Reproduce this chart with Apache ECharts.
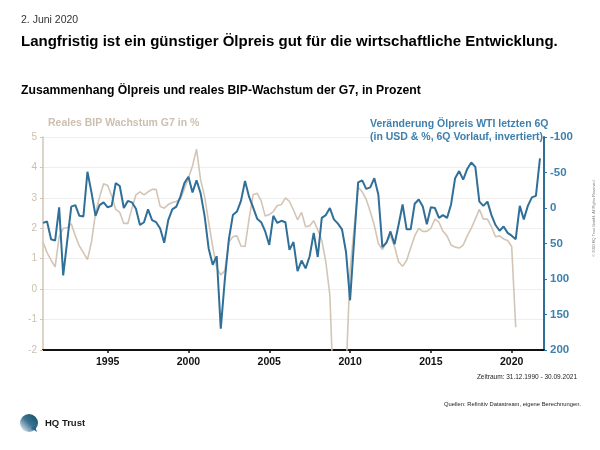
<!DOCTYPE html>
<html>
<head>
<meta charset="utf-8">
<script src="https://cdn.jsdelivr.net/npm/echarts@6/dist/echarts.min.js"></script>
<style>
html,body{margin:0;padding:0;background:#fff;}
#chart{width:600px;height:450px;}
</style>
</head>
<body>
<div id="chart"></div>
<script>
// Quarterly data, first point = 31.12.1990 (expressed as 1991.0), step = one quarter
const startYear = 1991;
const yearTicks = [1995, 2000, 2005, 2010, 2015, 2020];
const leftTicks = [-2, -1, 0, 1, 2, 3, 4, 5];
const rightTicks = [-100, -50, 0, 50, 100, 150, 200];

// Reales BIP Wachstum G7 in % (1990Q4 .. 2020Q1)
const gdp = [
  1.55, 1.2, 0.95, 0.73, 1.72, 2.0, 2.02, 2.15, 1.75, 1.42,
  1.2, 0.97, 1.55, 2.5, 3.03, 3.46, 3.41, 3.07, 2.62, 2.52,
  2.16, 2.16, 2.65, 3.1, 3.2, 3.1, 3.2, 3.28, 3.28, 2.72,
  2.66, 2.78, 2.85, 2.88, 2.95, 3.3, 3.65, 4.05, 4.6, 3.6,
  3.05, 2.2, 1.4, 0.7, 0.47, 0.6, 1.55, 1.72, 1.75, 1.42,
  1.4, 2.3, 3.1, 3.15, 2.9, 2.4, 2.45, 2.55, 2.75, 2.78,
  3.0, 2.88, 2.6, 2.28, 2.52, 2.05, 2.08, 2.25, 1.95, 1.6,
  0.9, -0.2, -3.8, -5.5, -5.5, -2.8, 0.6, 2.0, 3.35, 3.2,
  2.95, 2.55, 2.1, 1.5, 1.3, 1.55, 1.75, 1.4, 0.9, 0.75,
  0.95, 1.35, 1.75, 2.0, 1.9, 1.9, 2.0, 2.3, 2.2, 1.9,
  1.75, 1.45, 1.38, 1.35, 1.45, 1.75, 2.0, 2.3, 2.62, 2.3,
  2.3, 2.05, 1.72, 1.75, 1.65, 1.6, 1.4, -1.25
];

// Veränderung Ölpreis WTI letzten 6Q, 6Q Vorlauf (1990Q4 .. 2021Q3), right axis inverted
const oil = [
  21, 19, 44, 46, -1, 95, 46, -2, -4, 11,
  12, -51, -22, 11, -4, -8, -1, -3, -35, -31,
  0, -10, -8, 1, 24, 20, 2, 17, 20, 29,
  49, 17, 2, -2, -16, -35, -44, -22, -39, -21,
  11, 57, 80, 68, 170, 101, 44, 10, 5, -10,
  -38, -16, -1, 15, 20, 33, 52, 11, 21, 18,
  20, 59, 48, 89, 74, 85, 68, 35, 69, 14,
  10, 0, 16, 22, 30, 62, 130, 46, -36, -39,
  -27, -29, -42, -19, 55, 49, 33, 51, 24, -5,
  30, 30, -6, -12, -2, 23, -1, 0, 14, 10,
  14, -5, -42, -52, -40, -55, -64, -58, -9, -3,
  -9, 10, 24, 32, 26, 35, 39, 44, -3, 16,
  -3, -15, -17, -70
];

const gdpName = 'Reales BIP Wachstum G7 in %';
const oilName1 = 'Veränderung Ölpreis WTI letzten 6Q';
const oilName2 = '(in USD & %, 6Q Vorlauf, invertiert)';

const toPairs = arr => arr.map((v, i) => [startYear + i / 4, v]);

const BLUE = '#2f6f98';
const BLUE_TXT = '#3f80ad';
const BEIGE = '#d3c5b5';
const BEIGE_TXT = '#cdbfb0';
const FONT = 'Liberation Sans, Arial, sans-serif';
const NARROW = 'Liberation Sans Narrow, Liberation Sans, Arial, sans-serif';

const chart = echarts.init(document.getElementById('chart'), null, {renderer: 'canvas'});
chart.setOption({
  animation: false,
  backgroundColor: '#ffffff',
  grid: {left: 43, right: 56, top: 137, bottom: 100, containLabel: false},
  xAxis: {
    type: 'value',
    min: startYear,
    max: 2022,
    axisLine: {show: true, onZero: false, lineStyle: {color: '#111', width: 2}},
    axisTick: {show: true, customValues: yearTicks, length: 3, lineStyle: {color: '#111', width: 1.5}},
    axisLabel: {customValues: yearTicks, color: '#111', fontWeight: 'bold', fontSize: 10.5, fontFamily: FONT, margin: 7,
      formatter: v => String(Math.round(v))},
    splitLine: {show: false}
  },
  yAxis: [
    {
      type: 'value', min: -2, max: 5, interval: 1, position: 'left',
      axisLine: {show: true, onZero: false, lineStyle: {color: BEIGE, width: 1.5}},
      axisTick: {show: true, length: 3, lineStyle: {color: BEIGE}},
      axisLabel: {color: BEIGE_TXT, fontSize: 10, fontFamily: FONT, margin: 6},
      splitLine: {show: true, lineStyle: {color: '#f0eeec', width: 1}}
    },
    {
      type: 'value', min: -100, max: 200, interval: 50, position: 'right', inverse: true,
      axisLine: {show: true, onZero: false, lineStyle: {color: BLUE, width: 2}},
      axisTick: {show: true, length: 3, lineStyle: {color: BLUE}},
      axisLabel: {color: BLUE_TXT, fontSize: 11.5, fontWeight: 'bold', fontFamily: FONT, margin: 6},
      splitLine: {show: false}
    }
  ],
  series: [
    {
      name: gdpName, type: 'line', yAxisIndex: 0, data: toPairs(gdp),
      showSymbol: false, clip: true, z: 2,
      lineStyle: {color: BEIGE, width: 1.6}
    },
    {
      name: oilName1, type: 'line', yAxisIndex: 1, data: toPairs(oil),
      showSymbol: false, clip: true, z: 3,
      lineStyle: {color: BLUE, width: 2}
    }
  ],
  graphic: [
    {type: 'text', z: 100, left: 21, top: 15, style: {text: '2. Juni 2020', fontSize: 10.5, fontFamily: FONT, fill: '#333'}},
    {type: 'text', z: 100, left: 21, top: 34, style: {text: 'Langfristig ist ein günstiger Ölpreis gut für die wirtschaftliche Entwicklung.', fontSize: 15, fontWeight: 'bold', fontFamily: FONT, fill: '#000'}},
    {type: 'text', z: 100, left: 21, top: 85, style: {text: 'Zusammenhang Ölpreis und reales BIP-Wachstum der G7, in Prozent', fontSize: 12.2, fontWeight: 'bold', fontFamily: FONT, fill: '#000'}},
    {type: 'text', z: 100, left: 48, top: 118, style: {text: gdpName, fontSize: 10.5, fontWeight: 'bold', fontFamily: FONT, fill: BEIGE_TXT}},
    {type: 'text', z: 100, left: 370, top: 119, style: {text: oilName1, fontSize: 10.5, fontWeight: 'bold', fontFamily: FONT, fill: BLUE_TXT}},
    {type: 'text', z: 100, left: 370, top: 132, style: {text: oilName2, fontSize: 10.5, fontWeight: 'bold', fontFamily: FONT, fill: BLUE_TXT}},
    {type: 'text', z: 100, right: 23, top: 374, style: {text: 'Zeitraum: 31.12.1990 - 30.09.2021', fontSize: 6.5, fontFamily: NARROW, fill: '#222'}},
    {type: 'text', z: 100, right: 19, top: 401, style: {text: 'Quellen: Refinitiv Datastream, eigene Berechnungen.', fontSize: 5.8, fontFamily: NARROW, fill: '#222'}},
    {type: 'text', z: 100, left: 45, top: 418, style: {text: 'HQ Trust', fontSize: 9.5, fontWeight: 'bold', fontFamily: FONT, fill: '#1a1a1a'}},
    {type: 'circle', z: 100, shape: {cx: 29, cy: 423, r: 9}, style: {fill: new echarts.graphic.LinearGradient(1, 0, 0, 1, [
      {offset: 0, color: '#0d4a66'}, {offset: 0.5, color: '#3d7391'}, {offset: 1, color: '#ffffff'}])}},
    {type: 'polygon', z: 100, shape: {points: [[31, 428], [37, 432], [35, 426]]}, style: {fill: '#2a6582'}},
    {type: 'text', z: 100, x: 594, y: 218, rotation: Math.PI / 2, style: {text: '© 2020 HQ Trust GmbH. All Rights Reserved.', fontSize: 3.8, fontFamily: FONT, fill: '#777', align: 'center', verticalAlign: 'middle'}}
  ]
});
</script>
</body>
</html>
